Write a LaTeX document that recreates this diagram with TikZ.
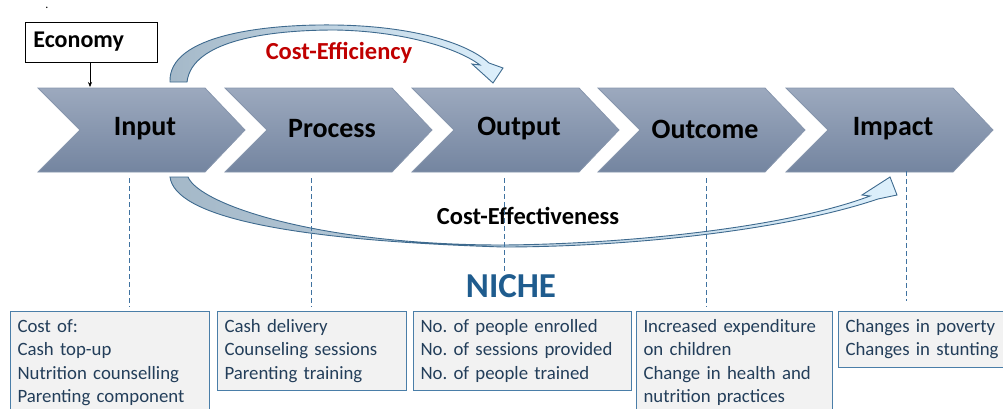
\documentclass[tikz,border=0pt]{standalone}
\usepackage{fontspec}
\setmainfont{Carlito}
\usetikzlibrary{arrows.meta,positioning,calc}

\definecolor{chevtop}{HTML}{9CA9BE}
\definecolor{chevbot}{HTML}{7485A0}
\definecolor{chevline}{HTML}{8796AD}
\definecolor{arcleft}{HTML}{A4B8C8}
\definecolor{arcright}{HTML}{DDF0FC}
\definecolor{arcline}{HTML}{3E6A8E}
\definecolor{guideblue}{HTML}{3F72A0}
\definecolor{boxline}{HTML}{4A7EA8}
\definecolor{boxfill}{HTML}{F2F2F2}
\definecolor{boxtext}{HTML}{233E5A}
\definecolor{nicheblue}{HTML}{1F5C8E}
\definecolor{effred}{HTML}{C00000}

\tikzset{
    chevron/.style={draw=chevline, line width=0.8pt, top color=chevtop, bottom color=chevbot},
    steplabel/.style={font=\bfseries\fontsize{28}{33}\selectfont},
    arclabel/.style={font=\bfseries\fontsize{24.5}{29}\selectfont},
    arcband/.style={draw=arcline, line width=0.9pt, left color=arcleft, right color=arcright},
    guide/.style={draw=guideblue, dash pattern=on 5pt off 3pt, line width=0.8pt},
    databox/.style={draw=boxline, line width=1pt, fill=boxfill, anchor=north west, align=left,
        inner xsep=7pt, inner ysep=4.25pt, text=boxtext, font=\fontsize{18.8}{23.5}\selectfont,
        execute at begin node=\strut, execute at end node=\strut},
}

\begin{document}
\begin{tikzpicture}[x=1pt, y=-1pt]
    \useasboundingbox (0,0) rectangle (1003,408);
    \clip (0,0) rectangle (1003,408);

    \foreach \x/\name/\label in {38/input/Input, 225/process/Process, 412/output/Output, 598/outcome/Outcome, 786/impact/Impact}{
        \draw[chevron] (\x,88) -- ++(167,0) -- ++(40,42) -- ++(-40,42) -- ++(-167,0) -- ++(42,-42) -- cycle;
        \node[steplabel] (\name) at (\x+107,129) {\label};
    }

    \node[font=\fontsize{12}{12}\selectfont] (dot) at (47,8) {.};
    \node[draw, line width=0.8pt, anchor=west, text width=116pt, align=left, inner xsep=8pt,
        minimum height=40pt, font=\bfseries\fontsize{24}{28}\selectfont] (economy) at (25,42) {Economy};
    \draw[-{Stealth[length=5pt,width=4pt]}, line width=0.6pt] (economy.south -| 90,0) -- (90,87);

    % curved block arrows
    \path[arcband] (170,82) .. controls (168,35) and (265,24) .. (335,25)
        .. controls (410,26) and (466,42) .. (489,63) -- (503,68) -- (493,83) -- (472,64) -- (480,65)
        .. controls (456,47) and (400,31) .. (335,30) .. controls (270,30) and (192,40) .. (187,82) -- cycle;
    \path[arcband] (170,177) .. controls (175,215) and (280,240) .. (503,247)
        .. controls (620,247) and (780,232) .. (878,199) -- (897,195) -- (890,177) -- (862,195) -- (870,196)
        .. controls (785,228) and (625,244) .. (503,245) .. controls (320,245) and (200,205) .. (188,177) -- cycle;

    \node[arclabel, text=effred] (efficiency) at (339,53) {Cost-Efficiency};
    \node[arclabel] (effectiveness) at (528,216) {Cost-Effectiveness};
    \node[font=\bfseries\fontsize{35}{42}\selectfont, text=nicheblue] (niche) at (511,286) {NICHE};

    \node[databox, text width=185pt] (inbox) at (10,311) {Cost of:\\Cash top-up\\Nutrition counselling\\Parenting component};
    \node[databox, text width=175pt] (procbox) at (217,311) {Cash delivery\\Counseling sessions\\Parenting training};
    \node[databox, text width=204pt] (outbox) at (413,311) {No.\ of people enrolled\\No.\ of sessions provided\\No.\ of people trained};
    \node[databox, text width=182pt] (outcbox) at (636,311) {Increased expenditure\\on children\\Change in health and\\nutrition practices};
    \node[databox, text width=166pt] (impbox) at (838,311) {Changes in poverty\\Changes in stunting};

    \foreach \x/\b in {129/inbox, 311/procbox, 706/outcbox}
        \draw[guide] (\x,178) -- ([yshift=4pt]\x,0 |- \b.north);
    \draw[guide] (504,178) -- (504,0 |- niche.north);
    \draw[guide] (906,171) -- ([yshift=10pt]906,0 |- impbox.north);
\end{tikzpicture}
\end{document}
